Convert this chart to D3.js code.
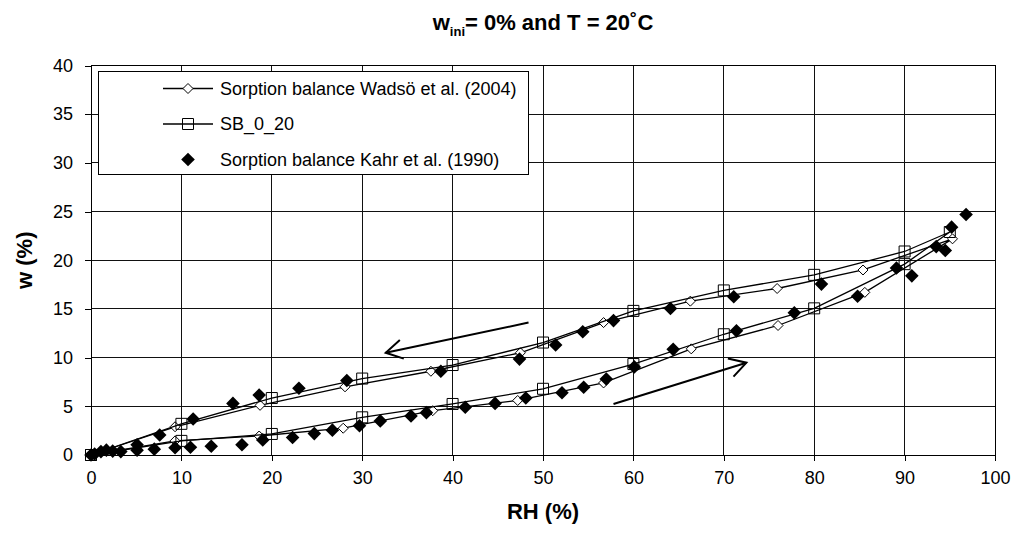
<!DOCTYPE html>
<html>
<head>
<meta charset="utf-8">
<script src="https://cdn.jsdelivr.net/npm/d3@7"></script>
<style>
  body { margin: 0; background: #fff; }
  svg { display: block; }
  text { font-family: "Liberation Sans", Arial, sans-serif; fill: #000; }
</style>
</head>
<body>
<svg id="chart" width="1013" height="542"></svg>
<script>
// Axis ticks
const rhTicks = [0, 10, 20, 30, 40, 50, 60, 70, 80, 90, 100];
const wTicks = [0, 5, 10, 15, 20, 25, 30, 35, 40];

// Series names
const seriesNames = [
  "Sorption balance Wadsö et al. (2004)",
  "SB_0_20",
  "Sorption balance Kahr et al. (1990)"
];

// Wadsö et al. (2004): absorption up to 95 % RH, then desorption back to 0
const wadsoRH = [0, 9.3, 18.6, 27.9, 37.8, 47.2, 56.7, 66.4, 76.0, 85.6, 95.3,
                 85.4, 75.9, 66.3, 56.7, 47.5, 37.6, 28.1, 18.7, 9.3, 0];
const wadsoW  = [0, 1.45, 1.95, 2.75, 4.55, 5.6, 7.4, 10.9, 13.3, 16.7, 22.2,
                 19.0, 17.1, 15.8, 13.6, 10.5, 8.6, 7.0, 5.1, 2.9, 0];

// SB_0_20: absorption then desorption
const sbRH = [0, 10, 20, 30, 40, 50, 60, 70, 80, 90, 95,
              90, 80, 70, 60, 50, 40, 30, 20, 10, 0];
const sbW  = [0, 1.45, 2.16, 3.87, 5.24, 6.8, 9.34, 12.4, 15.06, 19.6, 22.9,
              20.9, 18.5, 16.9, 14.8, 11.55, 9.24, 7.85, 5.85, 3.2, 0];

// Kahr et al. (1990): points only
const kahrRH = [0, 0.4, 1.1, 1.7, 2.4, 3.3, 5.1, 7.0, 9.3, 11.0, 13.3, 16.7, 19.0,
                22.3, 24.7, 26.7, 29.7, 32.0, 35.4, 37.1, 41.4, 44.7, 48.1, 52.1,
                54.5, 57.0, 60.1, 64.4, 71.4, 77.8, 84.8, 89.1, 93.5, 95.2, 96.8,
                94.5, 90.8, 80.8, 71.1, 64.1, 57.8, 54.4, 51.4, 47.4, 38.7, 28.3,
                23.0, 18.6, 15.7, 11.3, 7.6, 5.1];
const kahrW  = [0, 0.1, 0.35, 0.5, 0.4, 0.35, 0.5, 0.6, 0.75, 0.8, 0.9, 1.05, 1.55,
                1.8, 2.2, 2.55, 3.0, 3.5, 4.0, 4.35, 4.9, 5.3, 5.85, 6.4,
                6.95, 7.8, 9.05, 10.85, 12.75, 14.6, 16.3, 19.2, 21.4, 23.4, 24.7,
                21.0, 18.4, 17.55, 16.25, 15.05, 13.8, 12.65, 11.3, 9.85, 8.6, 7.65,
                6.85, 6.15, 5.3, 3.7, 2.05, 1.05];

// Direction arrows (RH, w): desorption runs leftwards, absorption rightwards
const arrowFrom = [[48.4, 13.6], [57.8, 5.24]];
const arrowTo   = [[32.6, 10.5], [72.5, 9.48]];

const svg = d3.select("#chart");
const x = d3.scaleLinear().domain([0, 100]).range([91, 995]);
const y = d3.scaleLinear().domain([0, 40]).range([455, 65.5]);

// Grid
const grid = svg.append("g").attr("stroke", "#111").attr("stroke-width", 1).attr("shape-rendering", "crispEdges");
grid.selectAll(".gx").data(rhTicks).join("line")
  .attr("x1", d => x(d)).attr("x2", d => x(d))
  .attr("y1", y(0)).attr("y2", y(40));
grid.selectAll(".gy").data(wTicks).join("line")
  .attr("x1", x(0)).attr("x2", x(100))
  .attr("y1", d => y(d)).attr("y2", d => y(d));

// Axes
const xAxis = svg.append("g").attr("transform", `translate(0,${y(0)})`)
  .call(d3.axisBottom(x).tickValues(rhTicks).tickSize(6).tickPadding(10).tickSizeOuter(0));
const yAxis = svg.append("g").attr("transform", `translate(${x(0)},0)`)
  .call(d3.axisLeft(y).tickValues(wTicks).tickSize(6).tickPadding(12).tickSizeOuter(0));
[xAxis, yAxis].forEach(g => {
  g.select(".domain").attr("stroke", "#000");
  g.selectAll(".tick line").attr("stroke", "#000");
  g.selectAll(".tick text").attr("font-size", 18).attr("fill", "#000")
    .style("font-family", '"Liberation Sans", Arial, sans-serif');
  g.attr("shape-rendering", "crispEdges");
});

// Series paths
const line = d3.line().x(d => x(d[0])).y(d => y(d[1]));
const wadso = wadsoRH.map((v, i) => [v, wadsoW[i]]);
const sb = sbRH.map((v, i) => [v, sbW[i]]);
const kahr = kahrRH.map((v, i) => [v, kahrW[i]]);

const diamond = r => `M0,${-r}L${r},0L0,${r}L${-r},0Z`;
const square = s => `M${-s},${-s}H${s}V${s}H${-s}Z`;

function drawOpenDiamond(g, cx, cy) {
  g.append("path").attr("d", diamond(5)).attr("transform", `translate(${cx},${cy})`)
    .attr("fill", "#fff").attr("stroke", "#000").attr("stroke-width", 1);
}
function drawSquare(g, cx, cy) {
  g.append("path").attr("d", square(5.5)).attr("transform", `translate(${cx},${cy})`)
    .attr("fill", "none").attr("stroke", "#000").attr("stroke-width", 1);
}
function drawSolidDiamond(g, cx, cy) {
  g.append("path").attr("d", diamond(6.8)).attr("transform", `translate(${cx},${cy})`)
    .attr("fill", "#000").attr("stroke", "none");
}

const gW = svg.append("g");
gW.append("path").attr("d", line(wadso)).attr("fill", "none").attr("stroke", "#000").attr("stroke-width", 1.3);
wadso.forEach(d => drawOpenDiamond(gW, x(d[0]), y(d[1])));

const gS = svg.append("g");
gS.append("path").attr("d", line(sb)).attr("fill", "none").attr("stroke", "#000").attr("stroke-width", 1.3);
sb.forEach(d => drawSquare(gS, x(d[0]), y(d[1])));

const gK = svg.append("g");
kahr.forEach(d => drawSolidDiamond(gK, x(d[0]), y(d[1])));

// Arrows
const gA = svg.append("g").attr("stroke", "#000").attr("stroke-width", 2).attr("fill", "none");
arrowFrom.forEach((f, i) => {
  const x1 = x(f[0]), y1 = y(f[1]), x2 = x(arrowTo[i][0]), y2 = y(arrowTo[i][1]);
  gA.append("line").attr("x1", x1).attr("y1", y1).attr("x2", x2).attr("y2", y2);
  const ang = Math.atan2(y1 - y2, x1 - x2);
  const len = 19, spread = Math.PI / 6;
  const pts = [ang - spread, ang + spread].map(a => [x2 + len * Math.cos(a), y2 + len * Math.sin(a)]);
  gA.append("path").attr("d", `M${pts[0][0]},${pts[0][1]}L${x2},${y2}L${pts[1][0]},${pts[1][1]}`);
});

// Plot border
svg.append("rect").attr("x", x(0)).attr("y", y(40))
  .attr("width", x(100) - x(0)).attr("height", y(0) - y(40))
  .attr("fill", "none").attr("stroke", "#000").attr("shape-rendering", "crispEdges");

// Legend
const lg = svg.append("g");
const lgBox = lg.append("rect").attr("x", 98).attr("y", 71).attr("height", 103)
  .attr("fill", "#fff").attr("stroke", "#000").attr("shape-rendering", "crispEdges");
const rowY = [88.5, 124, 159.5];
let maxEnd = 0;
seriesNames.forEach((name, i) => {
  const cy = rowY[i];
  if (i < 2) {
    lg.append("line").attr("x1", 163).attr("x2", 213).attr("y1", cy).attr("y2", cy)
      .attr("stroke", "#000").attr("stroke-width", 1.3);
  }
  if (i === 0) drawOpenDiamond(lg, 188, cy);
  if (i === 1) drawSquare(lg, 188, cy);
  if (i === 2) drawSolidDiamond(lg, 188, cy);
  const t = lg.append("text").attr("x", 220).attr("y", cy).attr("dy", "0.36em")
    .attr("font-size", 18).text(name);
  maxEnd = Math.max(maxEnd, 220 + t.node().getComputedTextLength());
});
lgBox.attr("width", maxEnd + 12 - 98);

// Titles
const title = svg.append("text").attr("x", (x(0) + x(100)) / 2).attr("y", 30)
  .attr("text-anchor", "middle").attr("font-size", 22).attr("font-weight", "bold");
title.append("tspan").text("w");
title.append("tspan").attr("font-size", 13).attr("dy", 6).text("ini");
title.append("tspan").attr("dy", -6).text("= 0% and T = 20˚C");

svg.append("text").attr("x", (x(0) + x(100)) / 2).attr("y", 519)
  .attr("text-anchor", "middle").attr("font-size", 22).attr("font-weight", "bold").text("RH (%)");

svg.append("text").attr("transform", `translate(32,${(y(0) + y(40)) / 2}) rotate(-90)`)
  .attr("text-anchor", "middle").attr("font-size", 22).attr("font-weight", "bold").text("w (%)");
</script>
</body>
</html>
